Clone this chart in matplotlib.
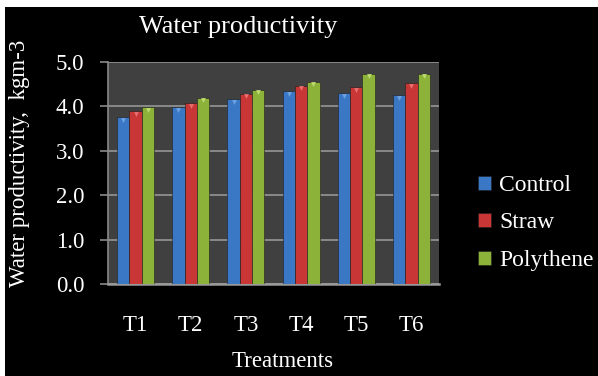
import numpy as np
import matplotlib
matplotlib.use("Agg")
import matplotlib.pyplot as plt
from matplotlib.patches import Rectangle

# data
treatments = ["T1", "T2", "T3", "T4", "T5", "T6"]
control = [3.75, 3.99, 4.16, 4.34, 4.30, 4.25]
straw = [3.90, 4.07, 4.29, 4.47, 4.43, 4.52]
polythene = [3.99, 4.20, 4.38, 4.56, 4.74, 4.74]

series = [("Control", control, "#3a78c6", "#6fa3e0"),
          ("Straw", straw, "#c93636", "#e87070"),
          ("Polythene", polythene, "#8db23a", "#bfdc70")]

SERIF = ["Liberation Serif", "DejaVu Serif"]
plt.rcParams["font.family"] = SERIF

W, H = 598, 376
fig = plt.figure(figsize=(W / 100, H / 100), dpi=100, facecolor="white")
# black chart area with thin white margin at top/left
fig.patches.append(Rectangle((5 / W, 0), (W - 5) / W, (H - 7) / H,
                             transform=fig.transFigure, facecolor="black",
                             edgecolor="none", zorder=-10))

ax = fig.add_axes([108 / W, 1 - 284 / H, 331 / W, 222 / H])
ax.set_facecolor("#404040")

x = np.arange(len(treatments))
bw = 0.223
for k, (name, vals, col, hi) in enumerate(series):
    xs = x + (k - 1) * bw
    ax.bar(xs, vals, width=bw, color=col, edgecolor="#1e1e1e", linewidth=0.4,
           label=name, zorder=3)
    ax.scatter(xs, np.array(vals) - 0.06, marker="v", s=12, color=hi,
               linewidths=0, zorder=4)

ax.set_xlim(-0.5, 5.5)
ax.set_ylim(0, 5.0)
yt = [0, 1, 2, 3, 4, 5]
ax.set_yticks(yt)
ax.set_yticklabels([f"{v:.1f}" for v in yt], family=SERIF, fontsize=16.5)
ax.set_xticks(x)
ax.set_xticklabels(treatments, family=SERIF, fontsize=16.5)
ax.yaxis.grid(True, color="#8a8a8a", linewidth=1.4, zorder=1)
ax.set_axisbelow(True)

for s in ["top", "right"]:
    ax.spines[s].set_visible(False)
ax.spines["left"].set_color("#8a8a8a")
ax.spines["left"].set_linewidth(1.2)
ax.spines["bottom"].set_color("#9a9a9a")
ax.spines["bottom"].set_linewidth(1.8)

ax.tick_params(axis="y", colors="#8a8a8a", labelcolor="white",
               length=6, width=1.2, pad=11)
ax.tick_params(axis="x", length=0, labelcolor="white", pad=22)

ax.set_xlabel("Treatments", color="white", fontsize=16.5, family=SERIF, va="center")
ax.xaxis.set_label_coords(0.529, -0.351)
ax.set_ylabel("Water productivity,  kgm-3", color="white", fontsize=16.5,
              family=SERIF, va="center")
ax.yaxis.set_label_coords(-0.266, 0.545)

fig.text(238 / W, 1 - 27 / H, "Water productivity", color="white",
         fontsize=19, family=SERIF, ha="center", va="center")

leg = ax.legend(loc="center left", bbox_to_anchor=(478 / W, 1 - 223 / H),
                bbox_transform=fig.transFigure, frameon=False,
                prop={"family": SERIF, "size": 17},
                handlelength=0.55, handleheight=0.55, handletextpad=0.35,
                labelspacing=0.7, borderpad=0, borderaxespad=0)
for t in leg.get_texts():
    t.set_color("white")

fig.savefig("out.png", dpi=100, facecolor=fig.get_facecolor())
